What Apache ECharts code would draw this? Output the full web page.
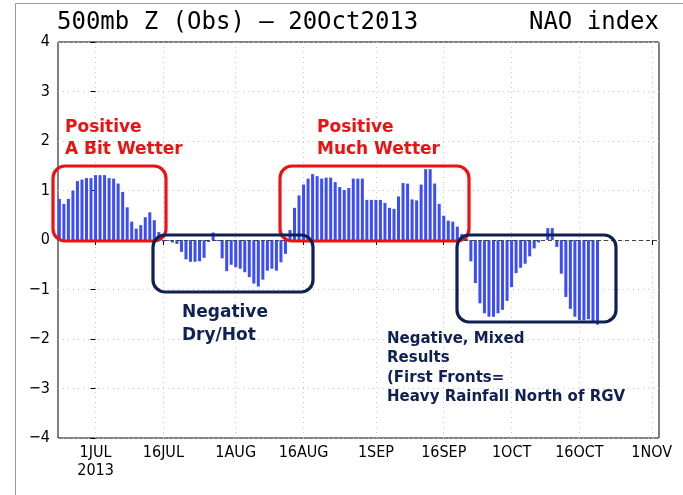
<!DOCTYPE html>
<html>
<head>
<meta charset="utf-8">
<script src="https://cdn.jsdelivr.net/npm/echarts@6/dist/echarts.min.js"></script>
<style>
html, body { margin: 0; padding: 0; background: #fff; }
#chart { width: 683px; height: 495px; }
</style>
</head>
<body>
<div id="chart"></div>
<script>
// days counted from 1 Jul 2013; first value is 23 Jun 2013, last is 20 Oct 2013
var firstDay = -8;
var naoValues = [
	0.83, 0.73, 0.83, 1.00, 1.19, 1.22, 1.25, 1.25,            // 23-30 Jun
	1.31, 1.31, 1.31, 1.25, 1.24, 1.14, 0.97, 0.66, 0.37, 0.23, // 1-10 Jul
	0.30, 0.46, 0.56, 0.40, 0.16, -0.03, -0.02, -0.05, -0.08, -0.24, // 11-20 Jul
	-0.39, -0.44, -0.44, -0.43, -0.36, -0.04, 0.15, -0.02, -0.37, -0.63, -0.50, // 21-31 Jul
	-0.55, -0.58, -0.65, -0.75, -0.88, -0.94, -0.80, -0.62, -0.58, -0.62, // 1-10 Aug
	-0.45, -0.28, 0.20, 0.65, 0.90, 1.12, 1.24, 1.33, 1.29, 1.24, // 11-20 Aug
	1.26, 1.26, 1.17, 1.07, 1.01, 1.05, 1.24, 1.24, 1.24, 0.81, 0.81, // 21-31 Aug
	0.81, 0.81, 0.75, 0.65, 0.63, 0.88, 1.15, 1.14, 0.82, 0.80, // 1-10 Sep
	1.12, 1.43, 1.43, 1.14, 0.73, 0.49, 0.39, 0.37, 0.27, 0.12, // 11-20 Sep
	0.03, -0.43, -0.87, -1.28, -1.48, -1.55, -1.55, -1.48, -1.41, -1.23, // 21-30 Sep
	-0.95, -0.67, -0.56, -0.48, -0.33, -0.17, -0.05, -0.01, 0.24, 0.24, // 1-10 Oct
	-0.14, -0.68, -1.15, -1.39, -1.55, -1.62, -1.62, -1.60, -1.64, -1.71 // 11-20 Oct
];
var tickDays = [0, 15, 31, 46, 62, 77, 92, 107, 123];
var tickLabels = ['1JUL\n2013', '16JUL', '1AUG', '16AUG', '1SEP', '16SEP', '1OCT', '16OCT', '1NOV'];

var RED = '#ee1111';
var NAVY = '#0f2152';
var axisFont = "'DejaVu Sans Condensed', 'Liberation Sans Narrow', sans-serif";
var titleFont = '24px "DejaVu Sans Mono", monospace';

var barData = naoValues.map(function(v, i) {
	return [firstDay + i, v];
});

function box(x, y, w, h, color) {
	return {
		type: 'rect',
		z: 100,
		shape: { x: x, y: y, width: w, height: h, r: 12 },
		style: { fill: 'none', stroke: color, lineWidth: 3.2 }
	};
}

function note(x, y, txt, color, size, lh) {
	return {
		type: 'text',
		z: 101,
		left: x,
		top: y,
		style: {
			text: txt,
			fill: color,
			font: 'bold ' + size + 'px "DejaVu Sans", Verdana, sans-serif',
			lineHeight: lh
		}
	};
}

var option = {
	animation: false,
	backgroundColor: '#fff',
	grid: {
		left: 58, right: 24, top: 42, bottom: 57,
		show: true, borderColor: '#000', borderWidth: 1
	},
	xAxis: {
		type: 'value',
		min: -8.3,
		max: 124.6,
		axisLine: { show: false },
		axisTick: { show: true, customValues: tickDays, length: 5, lineStyle: { color: '#000' } },
		axisLabel: {
			customValues: tickDays,
			color: '#000',
			fontFamily: axisFont,
			fontSize: 16,
			lineHeight: 18,
			margin: 6,
			formatter: function(v) {
				var i = tickDays.indexOf(v);
				return i < 0 ? '' : tickLabels[i];
			}
		},
		splitLine: { show: true, lineStyle: { color: '#c8c8c8', type: [1, 4] } }
	},
	yAxis: {
		type: 'value',
		min: -4,
		max: 4,
		interval: 1,
		axisLine: { show: false },
		axisTick: { show: true, length: 5, lineStyle: { color: '#000' } },
		axisLabel: {
			color: '#000',
			fontFamily: axisFont,
			fontSize: 16,
			margin: 8,
			formatter: function(v) {
				return v < 0 ? '\u2212' + Math.abs(v) : String(v);
			}
		},
		splitLine: { show: true, lineStyle: { color: '#c8c8c8', type: [1, 4] } }
	},
	series: [{
		type: 'bar',
		data: barData,
		barWidth: 3,
		itemStyle: { color: '#3b4cff' },
		markLine: {
			silent: true,
			symbol: 'none',
			label: { show: false },
			lineStyle: { color: '#444', type: [4, 3], width: 1 },
			data: [{ yAxis: 0 }]
		}
	}],
	graphic: [
		{
			type: 'rect', z: 0,
			shape: { x: 15.5, y: 3.5, width: 700, height: 520 },
			style: { fill: 'none', stroke: '#9a9a9a', lineWidth: 1 }
		},
		{
			type: 'text', left: 57, top: 11,
			style: { text: '500mb Z (Obs) \u2013 20Oct2013', fill: '#000', font: titleFont }
		},
		{
			type: 'text', right: 24, top: 11,
			style: { text: 'NAO index', fill: '#000', font: titleFont }
		},
		box(53, 166, 113, 75, RED),
		box(280, 166, 189, 75, RED),
		box(153, 235, 160, 57, NAVY),
		box(457, 235, 159, 87, NAVY),
		note(65, 117, 'Positive\nA Bit Wetter', RED, 17, 22),
		note(317, 117, 'Positive\nMuch Wetter', RED, 17, 22),
		note(182, 301, 'Negative\nDry/Hot', NAVY, 17, 23),
		note(387, 329, 'Negative, Mixed\nResults\n(First Fronts=\nHeavy Rainfall North of RGV', NAVY, 15, 19.5)
	]
};

var chart = echarts.init(document.getElementById('chart'));
chart.setOption(option);
</script>
</body>
</html>
